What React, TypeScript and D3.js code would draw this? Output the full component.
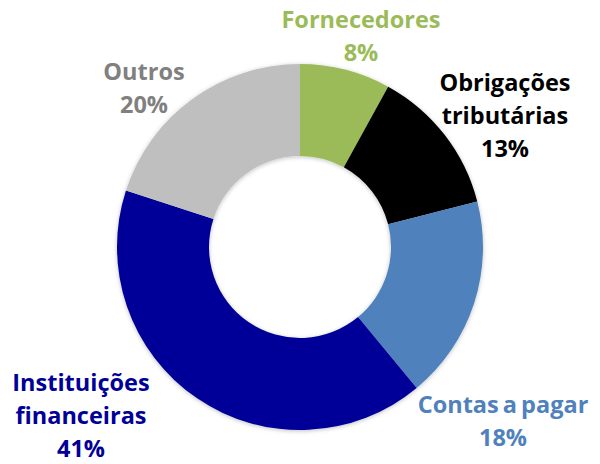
import { useEffect, useRef } from 'react'
import * as d3 from 'd3'

// chart data
const categories = ['Fornecedores', 'Obrigações tributárias', 'Contas a pagar', 'Instituições financeiras', 'Outros']
const values = [8, 13, 18, 41, 20]
const sliceColors = ['#9BBB59', '#000000', '#4F81BD', '#000099', '#BFBFBF']
const labelColors = ['#9BBB59', '#000000', '#4F81BD', '#000099', '#808080']
const labelLines = [['Fornecedores'], ['Obrigações', 'tributárias'], ['Contas a pagar'], ['Instituições', 'financeiras'], ['Outros']]

// label anchor (x, first baseline) for each slice
const labelPos: [number, number][] = [
  [361, 28],
  [505, 91],
  [503, 413],
  [81, 391],
  [144, 80],
]

const App = () => {
  const svgRef = useRef<SVGSVGElement>(null)
  const width = 600
  const height = 464

  useEffect(() => {
    const svgEl = d3.select(svgRef.current)
    svgEl.selectAll('*').remove()

    const cx = 300
    const cy = 247
    const outerR = 183
    const innerR = 91

    // soft shadow under the ring
    const defs = svgEl.append('defs')
    const filter = defs.append('filter').attr('id', 'shadow').attr('x', '-20%').attr('y', '-20%').attr('width', '140%').attr('height', '140%')
    filter
      .append('feDropShadow')
      .attr('dx', 0)
      .attr('dy', 1)
      .attr('stdDeviation', 2)
      .attr('flood-color', '#000')
      .attr('flood-opacity', 0.25)

    const pie = d3
      .pie<number>()
      .sort(null)
      .value((d) => d)
    const arc = d3.arc<d3.PieArcDatum<number>>().innerRadius(innerR).outerRadius(outerR)

    const g = svgEl.append('g').attr('transform', `translate(${cx},${cy})`)
    g.append('g')
      .attr('filter', 'url(#shadow)')
      .selectAll('path')
      .data(pie(values))
      .enter()
      .append('path')
      .attr('d', arc)
      .attr('fill', (d, i) => sliceColors[i])

    // Labels
    categories.forEach((c, i) => {
      const lines = [...labelLines[i], values[i] + '%']
      const text = svgEl
        .append('text')
        .attr('text-anchor', 'middle')
        .style('fill', labelColors[i])
        .style('font-family', '"Open Sans", sans-serif')
        .style('font-weight', 'bold')
        .style('font-size', '23.5px')
        .style('word-spacing', '-2px')
      lines.forEach((l, j) => {
        text
          .append('tspan')
          .attr('x', labelPos[i][0])
          .attr('y', labelPos[i][1] + j * 33)
          .text(l)
      })
    })
  }, [])

  return <svg ref={svgRef} width={width} height={height} style={{ display: 'block', position: 'absolute', left: 0, top: 0 }} />
}

export default App
